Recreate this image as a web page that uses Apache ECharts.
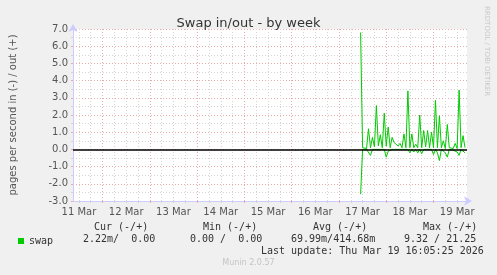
<!DOCTYPE html>
<html><head><meta charset="utf-8">
<script src="https://cdn.jsdelivr.net/npm/echarts@6/dist/echarts.min.js"></script>
<style>html,body{margin:0;padding:0;background:#F0F0F0;}#c{width:497px;height:275px;}</style>
</head><body><div id="c"></div>
<script>
// x values are hours since 11 Mar 00:00
const xMin = 9, xMax = 209;
const dayLabelHours = [12, 36, 60, 84, 108, 132, 156, 180, 204];
const dayLabels = ['11 Mar', '12 Mar', '13 Mar', '14 Mar', '15 Mar', '16 Mar', '17 Mar', '18 Mar', '19 Mar'];
const midnightHours = [24, 48, 72, 96, 120, 144, 168, 192];
const sixHourHours = [12, 18, 30, 36, 42, 54, 60, 66, 78, 84, 90, 102, 108, 114, 126, 132, 138, 150, 156, 162, 174, 180, 186, 198, 204];
const hours = [155,156,157,158,159,160,161,162,163,164,165,166,167,168,169,170,171,172,173,174,175,176,177,178,179,180,181,182,183,184,185,186,187,188,189,190,191,192,193,194,195,196,197,198,199,200,201,202,203,204,205,206,207,208];
const swapOut = [6.8,0.1,0.15,0.05,1.2,0.1,0.7,0.15,2.55,0.2,0.85,0.1,2.1,0.2,1.3,0.1,0.7,0.4,0.5,0.2,0.35,0.1,0.9,0.1,3.4,0.1,0.9,0.1,0.3,0.1,2.0,0.1,1.1,0.15,1.1,0.1,1.0,0.1,2.85,0.1,1.95,0.1,0.5,0.05,1.45,0.1,0.2,0.05,0.35,0.05,3.45,0.1,0.8,0.1];
const swapIn = [-2.6,0,-0.05,0,0,-0.35,0,-0.1,0,-0.05,0,-0.1,0,-0.45,-0.1,-0.05,0,-0.1,0,-0.05,0,-0.05,0,-0.1,0,-0.2,0,-0.15,0,-0.2,0,-0.25,0,-0.1,0,-0.05,0,-0.3,0,-0.2,-0.65,0,-0.1,-0.2,-0.45,0,0,-0.05,0,-0.15,-0.35,0,-0.1,-0.2];
const yTicks = [-3, 7, 1];
const legendHeaders = ['Cur (-/+)', 'Min (-/+)', 'Avg (-/+)', 'Max (-/+)'];
const legendValues = ['2.22m/  0.00', '0.00 /  0.00', '69.99m/414.68m', '9.32 / 21.25'];

const majorGrid = '#E8AAAA', minorGrid = '#D4D4D4', arrowCol = '#CCCCFF';
const chart = echarts.init(document.getElementById('c'), null, {renderer: 'canvas'});
const mono = 'DejaVu Sans Mono';
const headX = [94, 203, 313, 423];
const valX = [83, 190, 291, 404];
const graphics = [];
legendHeaders.forEach((t, i) => graphics.push({type: 'text', left: headX[i], top: 222, style: {text: t, font: '10px ' + mono, fill: '#333'}}));
legendValues.forEach((t, i) => graphics.push({type: 'text', left: valX[i], top: 234, style: {text: t, font: '10px ' + mono, fill: '#333'}}));
graphics.push({type: 'text', left: 261, top: 246, style: {text: 'Last update: Thu Mar 19 16:05:25 2026', font: '10px ' + mono, fill: '#333'}});
graphics.push({type: 'text', left: 'center', top: 259, style: {text: 'Munin 2.0.57', font: '8px DejaVu Sans', fill: '#C4C4C4'}});
graphics.push({type: 'text', x: 487, y: 6, rotation: -Math.PI / 2, style: {text: 'RRDTOOL / TOBI OETIKER', font: '7px DejaVu Sans', fill: '#C8C8C8', textAlign: 'left', textVerticalAlign: 'middle'}});

chart.setOption({
  backgroundColor: '#F0F0F0',
  animation: false,
  title: {text: 'Swap in/out - by week', left: 'center', top: 12, textStyle: {fontFamily: 'DejaVu Sans', fontSize: 13, fontWeight: 'normal', color: '#333'}},
  grid: {left: 67, right: 30, top: 29, bottom: 74, show: true, backgroundColor: '#FFFFFF', borderWidth: 0},
  legend: {data: ['swap'], left: 13, top: 231, icon: 'rect', itemWidth: 6, itemHeight: 6, itemGap: 5, textStyle: {fontFamily: mono, fontSize: 10, color: '#333'}},
  xAxis: [{
    type: 'value', min: xMin, max: xMax, position: 'bottom',
    axisLine: {show: true, onZero: false, lineStyle: {color: arrowCol, width: 1}, symbol: ['none', 'arrow'], symbolSize: [7, 8], symbolOffset: [0, 5]},
    axisTick: {show: true, customValues: midnightHours, length: 2, lineStyle: {color: majorGrid}},
    axisLabel: {customValues: dayLabelHours, formatter: v => dayLabels[dayLabelHours.indexOf(v)], fontFamily: 'DejaVu Sans', fontSize: 10, color: '#555', margin: 6},
    splitLine: {show: true, lineStyle: {color: majorGrid, type: [1, 2]}}
  }, {
    type: 'value', min: xMin, max: xMax, position: 'bottom',
    axisLine: {show: false, onZero: false}, axisLabel: {show: false},
    axisTick: {show: true, customValues: sixHourHours, length: 2, lineStyle: {color: minorGrid}},
    splitLine: {show: true, lineStyle: {color: minorGrid, type: [1, 2]}}
  }],
  yAxis: {
    type: 'value', min: yTicks[0], max: yTicks[1], interval: yTicks[2],
    name: 'pages per second in (-) / out (+)', nameLocation: 'middle', nameGap: 55,
    nameTextStyle: {fontFamily: 'DejaVu Sans', fontSize: 10, color: '#555'},
    axisLine: {show: true, onZero: false, lineStyle: {color: arrowCol}, symbol: ['none', 'arrow'], symbolSize: [7, 8], symbolOffset: [0, 5]},
    axisTick: {show: true, length: 2, lineStyle: {color: majorGrid}},
    minorTick: {show: true, splitNumber: 2, length: 2, lineStyle: {color: minorGrid}},
    axisLabel: {formatter: v => v.toFixed(1), fontFamily: 'DejaVu Sans', fontSize: 10, color: '#555', margin: 5},
    splitLine: {show: true, lineStyle: {color: majorGrid, type: [1, 2]}},
    minorSplitLine: {show: true, lineStyle: {color: minorGrid, type: [1, 2]}}
  },
  series: [
    {name: 'swap', type: 'line', xAxisIndex: 0, data: hours.map((h, i) => [h, swapIn[i]]), showSymbol: false, lineStyle: {color: '#00CC00', width: 1}, itemStyle: {color: '#00CC00'}, z: 3},
    {name: 'swap', type: 'line', xAxisIndex: 0, data: hours.map((h, i) => [h, swapOut[i]]), showSymbol: false, lineStyle: {color: '#00CC00', width: 1}, itemStyle: {color: '#00CC00'}, z: 3},
    {name: 'zero', type: 'line', xAxisIndex: 0, data: [], z: 5,
     markLine: {silent: true, symbol: 'none', label: {show: false}, lineStyle: {color: '#000000', width: 1.5, type: 'solid'}, data: [{yAxis: 0}]}}
  ],
  graphic: graphics
});
</script></body></html>
